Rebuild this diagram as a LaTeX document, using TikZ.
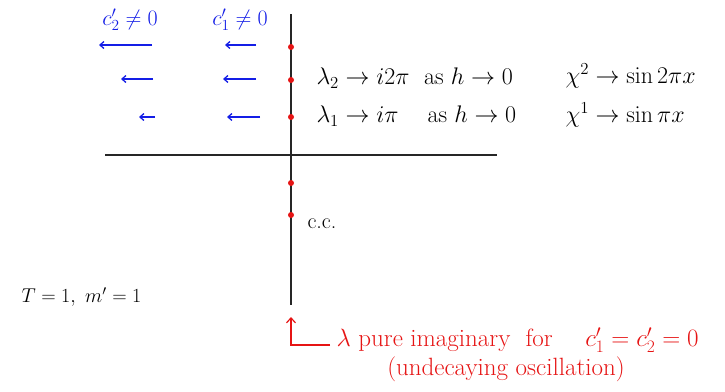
\RequirePackage{fix-cm}
\documentclass[tikz,border=0pt]{standalone}
\usepackage{amsmath}
\usetikzlibrary{arrows.meta}
\definecolor{penblue}{RGB}{20,30,230}
\definecolor{penred}{RGB}{230,20,20}
\begin{document}
\begin{tikzpicture}[x=1pt,y=-1pt,
  axis/.style={line width=1.4pt,black!85},
  pole/.style={circle,fill=penred,inner sep=0pt,minimum size=6pt},
  barrow/.style={penblue,line width=1.3pt,-{Straight Barb[length=4pt,width=7pt]}},
  blab/.style={penblue,font=\fontsize{22}{26}\selectfont,anchor=center},
  klab/.style={black,font=\fontsize{24}{28}\selectfont,anchor=west},
  cclab/.style={black,font=\fontsize{22}{26}\selectfont,anchor=west},
  tlab/.style={black,font=\fontsize{20}{24}\selectfont,anchor=west},
  rlab/.style={penred,font=\fontsize{25}{29}\selectfont},
]
\useasboundingbox (0,0) rectangle (725,391);
% axes
\coordinate (vtop) at (291,14);
\coordinate (vbot) at (291,305);
\coordinate (hl) at (105,155);
\coordinate (hr) at (497,155);
\draw[axis] (vtop) -- (vbot);
\draw[axis] (hl) -- (hr);
% poles
\node[pole] (p1) at (291,47) {};
\node[pole] (p2) at (291,80) {};
\node[pole] (p3) at (291,117) {};
\node[pole] (p4) at (291,183) {};
\node[pole] (p5) at (291,215) {};
% blue labels
\node[blab] (c2) at (130,20) {$c_2'\neq 0$};
\node[blab] (c1) at (240,20) {$c_1'\neq 0$};
% blue arrows
\coordinate (a1s) at (152,45); \coordinate (a1e) at (99,45);
\coordinate (a2s) at (256,45); \coordinate (a2e) at (225,45);
\coordinate (a3s) at (153,79); \coordinate (a3e) at (121,79);
\coordinate (a4s) at (256,79); \coordinate (a4e) at (223,79);
\coordinate (a5s) at (155,117); \coordinate (a5e) at (139,117);
\coordinate (a6s) at (260,117); \coordinate (a6e) at (227,117);
\draw[barrow] (a1s) -- (a1e);
\draw[barrow] (a2s) -- (a2e);
\draw[barrow] (a3s) -- (a3e);
\draw[barrow] (a4s) -- (a4e);
\draw[barrow] (a5s) -- (a5e);
\draw[barrow] (a6s) -- (a6e);
% black texts
\node[klab] (l2) at (313,78) {$\lambda_2\to i2\pi$ \ as $h\to 0$};
\node[klab] (l1) at (313,116) {$\lambda_1\to i\pi$ \ \ \ as $h\to 0$};
\node[klab] (x2) at (562,76) {$\chi^2\to \sin 2\pi x$};
\node[klab] (x1) at (562,115) {$\chi^1\to \sin \pi x$};
\node[cclab] (cc) at (304,224) {c.c.};
\node[tlab] (tm) at (18,297) {$T=1,\ m'=1$};
% red annotation
\coordinate (rc) at (291,345);
\coordinate (rt) at (291,317);
\coordinate (rr) at (330,345);
\draw[penred,line width=1.2pt,-{Straight Barb[length=5pt,width=9pt]}] (rr) -- (rc) -- (rt);
\node[rlab,anchor=west] (r1) at (333,340) {$\lambda$ pure imaginary \ for \quad $c_1'=c_2'=0$};
\node[rlab] (r2) at (506,369) {(undecaying oscillation)};
\end{tikzpicture}
\end{document}
